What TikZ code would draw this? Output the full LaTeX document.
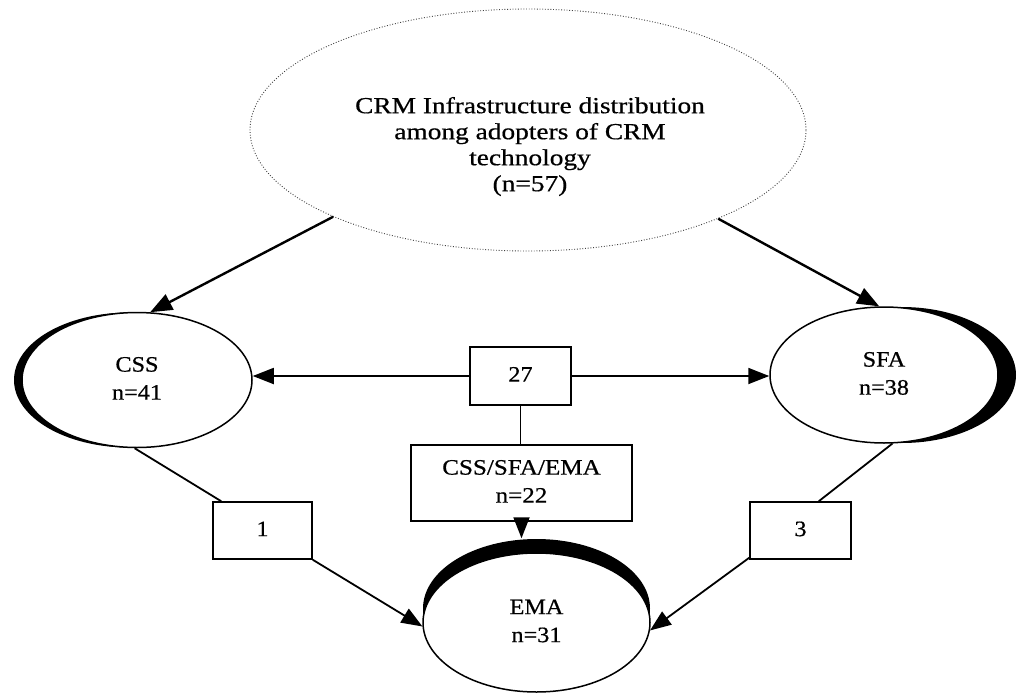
\documentclass[tikz,border=0pt]{standalone}
\usepackage{fontspec}
\setmainfont{Liberation Serif}[FakeBold=0.6]
\usetikzlibrary{arrows.meta,shadows,calc,shapes.geometric}

% wide, centred multi-line label
\newcommand{\widetext}[2]{\scalebox{#1}[1]{\begin{tabular}{@{}c@{}}#2\end{tabular}}}

\tikzset{
  headfont/.style={font=\fontsize{23}{26}\selectfont},
  setfont/.style={font=\fontsize{22}{28}\selectfont},
  topell/.style={ellipse, draw=black!75, line width=0.9pt,
    dash pattern=on 0.9pt off 1.8pt, minimum width=556pt, minimum height=242pt, inner sep=0pt},
  setell/.style={ellipse, draw, line width=1.5pt, fill=white, inner sep=0pt, setfont},
  countbox/.style={rectangle, draw, line width=1.5pt, fill=white, inner sep=0pt, setfont},
  link/.style={line width=1.8pt},
  arr/.style={line width=1.8pt, -{Triangle[length=21pt,width=16pt]}},
  toparr/.style={line width=2.4pt, -{Triangle[length=22pt,width=17pt]}},
}

\begin{document}
\begin{tikzpicture}[x=1pt,y=-1pt]
\useasboundingbox (0,0) rectangle (1018,694);

% overall population
\node[topell] (top) at (528,130) {};
\node[headfont, inner sep=0pt] (toptext) at (530,147)
  {\widetext{1.19}{CRM Infrastructure distribution\\among adopters of CRM\\technology\\(n=57)}};

% the three infrastructure sets
\node[setell, minimum width=230pt, minimum height=135pt,
      general shadow={fill=black, shadow xshift=-8pt}] (css) at (137,380)
      {\widetext{1.1}{CSS\\n=41}};
\node[setell, minimum width=228pt, minimum height=136pt,
      general shadow={fill=black, shadow xshift=18pt}] (sfa) at (884,375)
      {\widetext{1.1}{SFA\\n=38}};
\node[setell, minimum width=227pt, minimum height=139pt,
      general shadow={fill=black, shadow yshift=14pt}] (ema) at (536.5,622.5)
      {\widetext{1.1}{EMA\\n=31}};

% overlap counts
\node[countbox, minimum width=101pt, minimum height=58pt] (b27) at (520.5,376) {\widetext{1.1}{27}};
\node[countbox, minimum width=221pt, minimum height=76pt] (b22) at (521.5,483)
      {\widetext{1.14}{CSS/SFA/EMA\\n=22}};
\node[countbox, minimum width=99pt, minimum height=57pt] (b1) at (262.5,530.5) {\widetext{1.1}{1}};
\node[countbox, minimum width=101pt, minimum height=57pt] (b3) at (800.5,530.5) {\widetext{1.1}{3}};

% connectors
\draw[toparr] (top.204.8) -- (css.79);
\draw[toparr] (top.335.7) -- (sfa.94);

\draw[arr] (b27.west) -- (b27.west -| css.east);
\draw[arr] (b27.east) -- (b27.east -| sfa.west);
\draw[link] (b27.south) -- (b27.south |- b22.north);
\draw[arr] (b22.south) -- ($(b22.south |- ema.north)+(0,14pt)$);

\draw[link] (css.268) -- ([xshift=9pt]b1.north west);
\draw[arr] (b1.south east) -- (ema.182);
\draw[link] (sfa.277.5) -- ([xshift=-33pt]b3.north east);
\draw[arr] ([yshift=2pt]b3.south west) -- (ema.-4);
\end{tikzpicture}
\end{document}
